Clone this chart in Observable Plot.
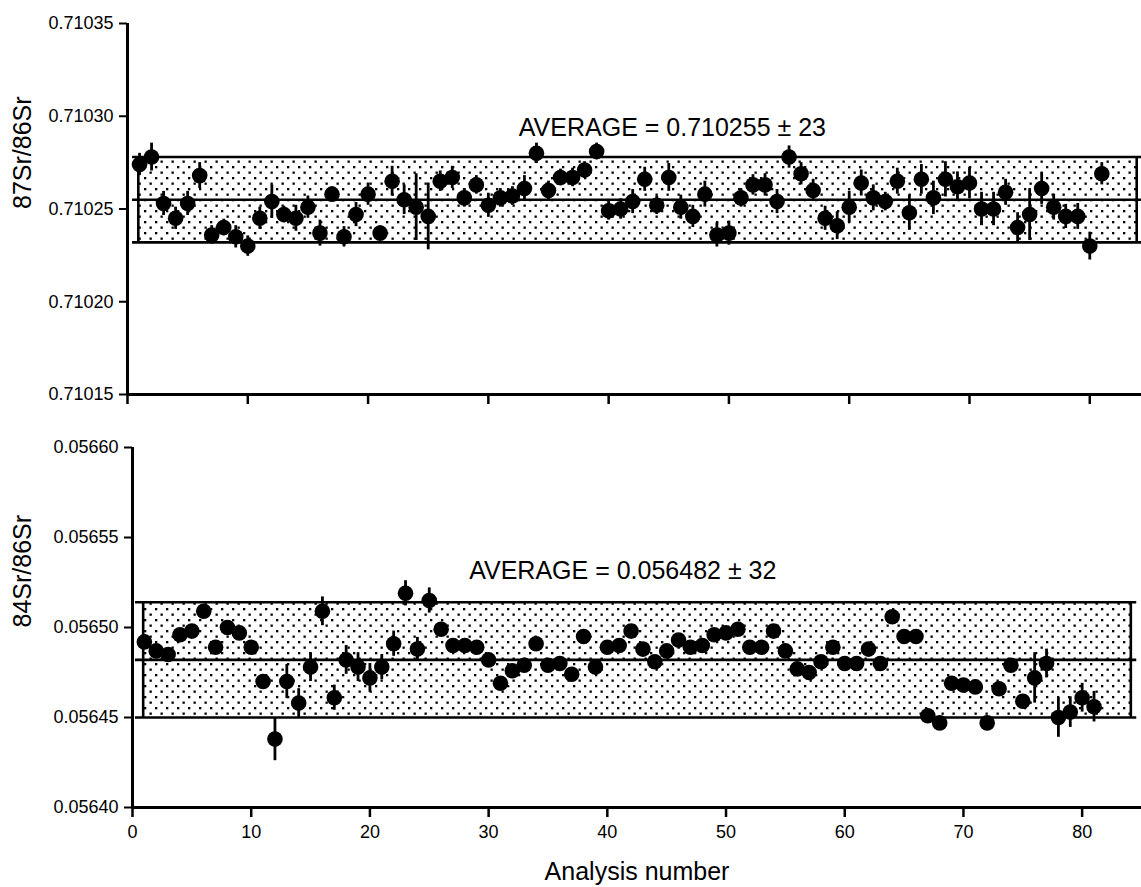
<!DOCTYPE html>
<html>
<head>
<meta charset="utf-8">
<script src="https://cdn.jsdelivr.net/npm/d3@7"></script>
<script src="https://cdn.jsdelivr.net/npm/@observablehq/plot@0.6"></script>
<style>
  body { margin: 0; background: #fff; }
  #chart svg { display: block; }
</style>
</head>
<body>
<div id="chart"></div>
<script>
// ---- data ----
const analysis = [1,2,3,4,5,6,7,8,9,10,11,12,13,14,15,16,17,18,19,20,21,22,23,24,25,26,27,28,29,30,31,32,33,34,35,36,37,38,39,40,41,42,43,44,45,46,47,48,49,50,51,52,53,54,55,56,57,58,59,60,61,62,63,64,65,66,67,68,69,70,71,72,73,74,75,76,77,78,79,80,81];

const sr87 = [0.710274,0.710278,0.710253,0.710245,0.710253,0.710268,0.710236,0.710240,0.710235,0.710230,
  0.710245,0.710254,0.710247,0.710245,0.710251,0.710237,0.710258,0.710235,0.710247,0.710258,
  0.710237,0.710265,0.710255,0.710251,0.710246,0.710265,0.710267,0.710256,0.710263,0.710252,
  0.710256,0.710257,0.710261,0.710280,0.710260,0.710267,0.710267,0.710271,0.710281,0.710249,
  0.710250,0.710254,0.710266,0.710252,0.710267,0.710251,0.710246,0.710258,0.710236,0.710237,
  0.710256,0.710263,0.710263,0.710254,0.710278,0.710269,0.710260,0.710245,0.710241,0.710251,
  0.710264,0.710256,0.710254,0.710265,0.710248,0.710266,0.710256,0.710266,0.710262,0.710264,
  0.710250,0.710250,0.710259,0.710240,0.710247,0.710261,0.710251,0.710246,0.710246,0.710230,0.710269];
// error half-lengths (units of 1e-6)
const sr87Err = [6,7.5,6.5,6,6.5,7,5,4.5,6,5.5, 6,9,4.5,7,6,7,4,5.5,6.5,6, 4,8,8,18,18,5.5,6,5,5,6.5,
  5,5,7,5.5,5,4.5,5,4.5,4.5,5, 5.5,6.5,6.5,5,7.5,6.5,6,7,6.5,6.5, 5,5.5,6,6.5,6,6,6,6.5,7.5,8.5,
  7,7,5,7,9.5,8,9,9.5,8,8.5, 9,9,7,8,14,8.5,7,6.5,7,7.5,6];

const sr84 = [0.056492,0.056487,0.056485,0.056496,0.056498,0.056509,0.056489,0.056500,0.056497,0.056489,
  0.056470,0.056438,0.056470,0.056458,0.056478,0.056509,0.056461,0.056482,0.056478,0.056472,
  0.056478,0.056491,0.056519,0.056488,0.056515,0.056499,0.056490,0.056490,0.056489,0.056482,
  0.056469,0.056476,0.056479,0.056491,0.056479,0.056480,0.056474,0.056495,0.056478,0.056489,
  0.056490,0.056498,0.056488,0.056481,0.056487,0.056493,0.056489,0.056490,0.056496,0.056497,
  0.056499,0.056489,0.056489,0.056498,0.056487,0.056477,0.056475,0.056481,0.056489,0.056480,
  0.056480,0.056488,0.056480,0.056506,0.056495,0.056495,0.056451,0.056447,0.056469,0.056468,
  0.056467,0.056447,0.056466,0.056479,0.056459,0.056472,0.056480,0.056450,0.056453,0.056461,0.056456];
const sr84Err = [3,3,3,3,3,3,3,3,3,3, 3,12,9.5,8,8,8,7,8,8,8, 7,7,7,6.5,7,3,3,3,3,3,
  3,3,3,3,3,3,3,3,3,3, 3,3,3,3,3,3,3,3,3,3, 3,3,3,3,3,3,3,3,3,3,
  3,3,3,3,3,3,3,3,3,3, 3,3,3,3,3,14,8,11,8.5,8,8.5];

const avg87 = 0.710255, unc87 = 0.000023;
const avg84 = 0.056482, unc84 = 0.000032;
const label87 = "AVERAGE = 0.710255 ± 23";
const label84 = "AVERAGE = 0.056482 ± 32";
const yTitle87 = "87Sr/86Sr";
const yTitle84 = "84Sr/86Sr";
const xTitle = "Analysis number";

const xTicks = [0,10,20,30,40,50,60,70,80];
const yTicks87 = [0.71015,0.71020,0.71025,0.71030,0.71035];
const yTicks84 = [0.05640,0.05645,0.05650,0.05655,0.05660];

// ---- build tables ----
const rows87 = analysis.map((a, i) => ({a, v: sr87[i], lo: sr87[i] - sr87Err[i]*1e-6, hi: sr87[i] + sr87Err[i]*1e-6}));
const rows84 = analysis.map((a, i) => ({a, v: sr84[i], lo: sr84[i] - sr84Err[i]*1e-6, hi: sr84[i] + sr84Err[i]*1e-6}));

const FONT = "'Liberation Sans', Arial, Helvetica, sans-serif";

function addPattern(svg, id) {
  const ns = "http://www.w3.org/2000/svg";
  const defs = document.createElementNS(ns, "defs");
  const pat = document.createElementNS(ns, "pattern");
  pat.setAttribute("id", id);
  pat.setAttribute("patternUnits", "userSpaceOnUse");
  pat.setAttribute("width", "11");
  pat.setAttribute("height", "11");
  const bg = document.createElementNS(ns, "rect");
  bg.setAttribute("width", "11"); bg.setAttribute("height", "11"); bg.setAttribute("fill", "#fff");
  pat.appendChild(bg);
  [[1,1],[6.5,6.5]].forEach(([x, y]) => {
    const r = document.createElementNS(ns, "rect");
    r.setAttribute("x", x); r.setAttribute("y", y);
    r.setAttribute("width", "2.3"); r.setAttribute("height", "2.3");
    r.setAttribute("fill", "#000");
    pat.appendChild(r);
  });
  defs.appendChild(pat);
  svg.insertBefore(defs, svg.firstChild);
}

function panel({rows, avg, unc, yDomain, yTicks, xDomain, height, marginTop, marginBottom, marginLeft,
                label, labelX, labelY, yTitle, patId, hLine, vLine, bottom}) {
  const lo = avg - unc, hi = avg + unc;
  const marks = [
    Plot.rect([0], {x1: vLine[0], x2: vLine[1], y1: lo, y2: hi, fill: `url(#${patId})`}),
    Plot.ruleY([lo, avg, hi], {x1: hLine[0], x2: hLine[1], stroke: "#000", strokeWidth: 2.6}),
    Plot.ruleX(vLine, {y1: lo, y2: hi, stroke: "#000", strokeWidth: 2.6}),
    Plot.ruleX(rows, {x: "a", y1: "lo", y2: "hi", stroke: "#000", strokeWidth: 2.8}),
    Plot.dot(rows, {x: "a", y: "v", r: 7.8, fill: "#000", stroke: "none"}),
    Plot.text([label], {x: labelX, y: labelY, fontSize: 25, fill: "#000", text: d => d}),
    Plot.text([yTitle], {frameAnchor: "left", dx: -(marginLeft - 22), rotate: -90, fontSize: 25, fill: "#000", text: d => d}),
    Plot.axisY({ticks: yTicks, tickFormat: d3.format(".5f"), tickSize: 8, tickPadding: 6, fontSize: 18, label: null, strokeWidth: 2}),
    Plot.axisX({ticks: xTicks, tickSize: 10, tickPadding: 8, fontSize: 18, label: null, strokeWidth: 2.5,
                tickFormat: bottom ? (d => d) : (() => "")}),
    Plot.ruleX([0], {stroke: "#000", strokeWidth: 3}),
    Plot.ruleY([yDomain[0]], {stroke: "#000", strokeWidth: 3})
  ];
  if (bottom) {
    marks.push(Plot.text([xTitle], {frameAnchor: "bottom", dy: 72, fontSize: 25, fill: "#000", text: d => d}));
  }
  const svg = Plot.plot({
    width: 1141, height, marginTop, marginBottom, marginLeft, marginRight: 0,
    style: {fontFamily: FONT, color: "#000", background: "#fff", overflow: "visible"},
    x: {domain: xDomain},
    y: {domain: yDomain},
    marks
  });
  addPattern(svg, patId);
  return svg;
}

const topPanel = panel({
  rows: rows87, avg: avg87, unc: unc87, yDomain: [0.71015, 0.71035], yTicks: yTicks87,
  xDomain: [0, 84.3], height: 420, marginTop: 23, marginBottom: 26, marginLeft: 127,
  label: label87, labelX: 45.3, labelY: 0.7102934, yTitle: yTitle87, patId: "stipTop",
  hLine: [0.42, 84.3], vLine: [0.9, 83.9], bottom: false
});
const botPanel = panel({
  rows: rows84, avg: avg84, unc: unc84, yDomain: [0.05640, 0.05660], yTicks: yTicks84,
  xDomain: [0, 85], height: 467, marginTop: 27, marginBottom: 80, marginLeft: 132,
  label: label84, labelX: 41.3, labelY: 0.0565313, yTitle: yTitle84, patId: "stipBot",
  hLine: [0.25, 84.6], vLine: [0.9, 84.1], bottom: true
});
document.getElementById("chart").append(topPanel, botPanel);
</script>
</body>
</html>
